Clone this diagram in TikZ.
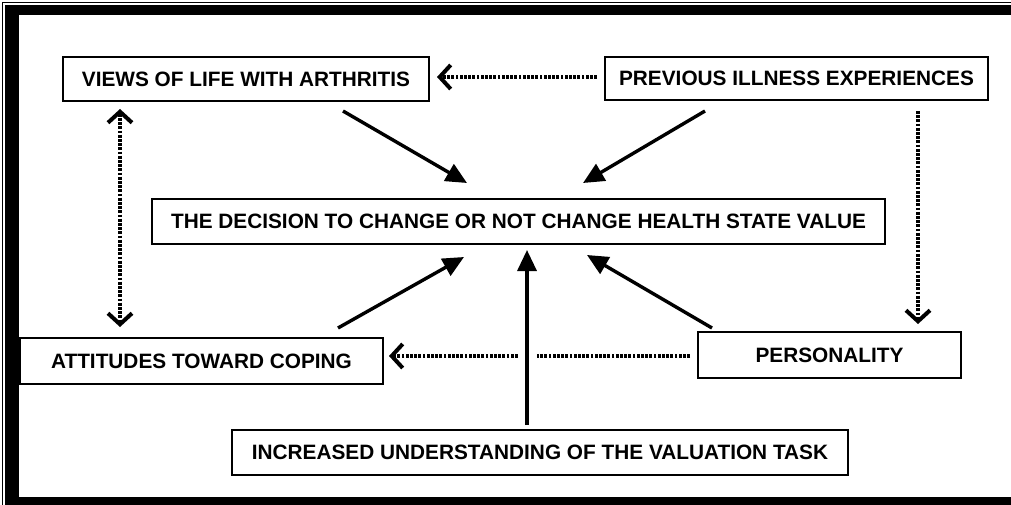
\documentclass[tikz,border=0pt]{standalone}
\usepackage{fontspec}
\setmainfont{Liberation Sans}
\usetikzlibrary{arrows.meta}
\begin{document}
\begin{tikzpicture}[x=1pt,y=-1pt,
 box/.style={draw,line width=2.8pt,inner sep=0pt,font=\fontsize{20.8}{24}\selectfont\bfseries},
 solidarrow/.style={line width=3.4pt,-{Triangle[length=21pt,width=19pt]}},
 barb/.tip={Straight Barb[length=11pt,width=24pt,line width=4pt]},
 dotarrow/.style={line width=3.4pt,dash pattern=on 2.8pt off 1.4pt,-barb},
 dotdouble/.style={line width=3.4pt,dash pattern=on 2.8pt off 1.4pt,barb-barb}
]
\useasboundingbox (0,0) rectangle (1011,505);
\fill[white] (0,0) rectangle (1011,505);
% frame
\draw[line width=1.5pt] (2.5,505) -- (2.5,2.5) -- (1011,2.5);
\fill (5,5) rectangle (1011,15);
\fill (5,5) rectangle (19,505);
\fill (5,497) rectangle (1011,505);

% nodes
\node[box,minimum width=366pt,minimum height=44pt] (views) at (246,79) {VIEWS OF LIFE WITH ARTHRITIS};
\node[box,minimum width=383pt,minimum height=43pt] (prev) at (796.5,78.5) {PREVIOUS ILLNESS EXPERIENCES};
\node[box,minimum width=733pt,minimum height=45pt] (dec) at (518.5,221.5) {THE DECISION TO CHANGE OR NOT CHANGE HEALTH STATE VALUE};
\node[box,minimum width=363pt,minimum height=46pt] (att) at (201.5,361) {ATTITUDES TOWARD COPING};
\node[box,minimum width=263pt,minimum height=46pt] (pers) at (829.5,355) {PERSONALITY};
\node[box,minimum width=616pt,minimum height=45pt] (inc) at (540,452.5) {INCREASED UNDERSTANDING OF THE VALUATION TASK};

% connector end points
\coordinate (v1) at (343,111);
\coordinate (d1) at (467,183);
\coordinate (p1) at (705,111);
\coordinate (d2) at (583,183);
\coordinate (a1) at (338,328);
\coordinate (d3) at (464,257);
\coordinate (i1) at (527,425);
\coordinate (d4) at (527,250);
\coordinate (s1) at (712,328);
\coordinate (d5) at (587,255);

\coordinate (pl) at (597,77);
\coordinate (vr) at (437,77);
\coordinate (vb) at (120,109);
\coordinate (at) at (120,327);
\coordinate (pb) at (918,111);
\coordinate (st) at (918,324);
\coordinate (sl) at (690,356);
\coordinate (ar) at (389,356);

% dotted connectors
\draw[dotarrow] (pl) -- (vr);
\draw[dotdouble] (vb) -- (at);
\draw[dotarrow] (pb) -- (st);
\draw[dotarrow] (sl) -- (ar);
\fill[white] (519,350) rectangle (537,362);

% solid connectors
\draw[solidarrow] (v1) -- (d1);
\draw[solidarrow] (p1) -- (d2);
\draw[solidarrow] (a1) -- (d3);
\draw[solidarrow] (i1) -- (d4);
\draw[solidarrow] (s1) -- (d5);
\end{tikzpicture}
\end{document}
